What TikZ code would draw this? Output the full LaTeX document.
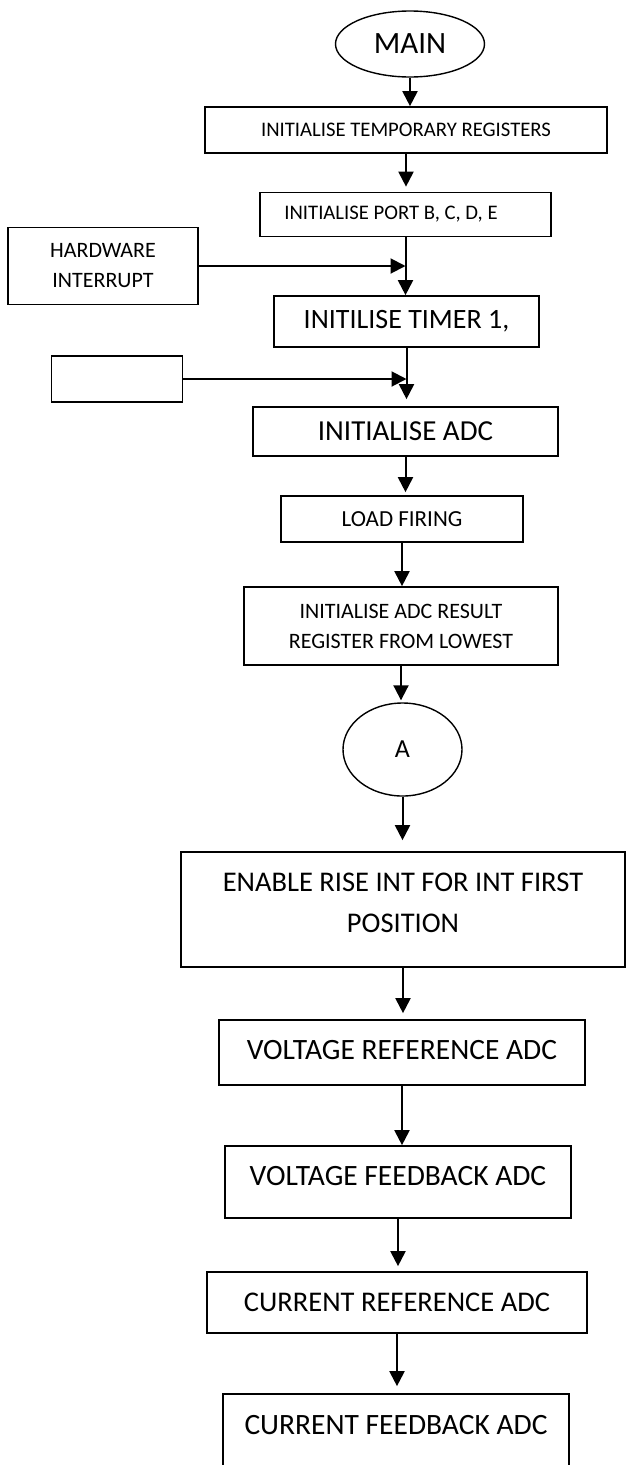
\documentclass[tikz,border=0pt]{standalone}
\usepackage{fontspec}
\setmainfont{Carlito}
\usetikzlibrary{shapes.geometric,arrows.meta}
\newcommand{\fsz}[2]{\fontsize{#1}{#2}\selectfont}

\begin{document}
\begin{tikzpicture}[x=1pt,y=-1pt,
        box/.style={draw, line width=1.7pt, inner sep=0pt, align=center},
        oval/.style={ellipse, draw, line width=1.4pt, inner sep=0pt},
        flow/.style={line width=2pt, -{Triangle[length=15pt,width=15pt]}}]
        \clip (0,0) rectangle (626,1465);
        % start
        \node [oval, minimum width=149pt, minimum height=66pt, font=\fsz{31}{37}] (main) at (410,44) {MAIN};
        \node [box, minimum width=402pt, minimum height=46pt, font=\fsz{20.7}{25}] (tempreg) at (406,130) {INITIALISE TEMPORARY REGISTERS};
        \node [box, minimum width=291pt, minimum height=44pt, font=\fsz{20.7}{25}] (port) at (405.5,214.5) {INITIALISE PORT B, C, D, E\hspace{29pt}};
        \node [box, minimum width=190pt, minimum height=77pt, font=\fsz{22}{30}] (hw) at (103,266) {HARDWARE\\INTERRUPT};
        \node [box, minimum width=265pt, minimum height=51pt, font=\fsz{28}{34}] (timer) at (406.5,321.5) {INITILISE TIMER 1,};
        \node [box, minimum width=131pt, minimum height=46pt] (blank) at (117,379) {};
        \node [box, minimum width=305pt, minimum height=49pt, font=\fsz{29}{35}] (adc) at (405.5,431.5) {INITIALISE ADC};
        \node [box, minimum width=242pt, minimum height=46pt, font=\fsz{23}{28}] (firing) at (402,519) {LOAD FIRING};
        \node [box, minimum width=314pt, minimum height=78pt, font=\fsz{22}{30}] (result) at (401,626) {INITIALISE ADC RESULT\\REGISTER FROM LOWEST};
        % connector
        \node [oval, minimum width=119pt, minimum height=93pt, font=\fsz{26}{31}] (conA) at (402.5,749.5) {A};
        \node [box, minimum width=444pt, minimum height=115pt, text depth=13pt, font=\fsz{28.5}{41}] (enable) at (403,909.5) {ENABLE RISE INT FOR INT FIRST\\POSITION};
        \node [box, minimum width=366pt, minimum height=65pt, text depth=5pt, font=\fsz{29.5}{35}] (vref) at (402,1052.5) {VOLTAGE REFERENCE ADC};
        \node [box, minimum width=346pt, minimum height=72pt, text depth=12pt, font=\fsz{29.5}{35}] (vfb) at (398,1182) {VOLTAGE FEEDBACK ADC};
        \node [box, minimum width=380pt, minimum height=61pt, font=\fsz{28.5}{34}] (cref) at (397,1302.5) {CURRENT REFERENCE ADC};
        \node [box, minimum width=346pt, minimum height=74pt, text depth=13pt, font=\fsz{29.5}{35}] (cfb) at (396,1431) {CURRENT FEEDBACK ADC};

        \draw [flow] (main.south) -- (main.south |- tempreg.north);
        \draw [flow, shorten >=5pt] (tempreg.south) -- (tempreg.south |- port.north);
        \draw [flow] (port.south) -- (port.south |- timer.north);
        \draw [flow] (hw.east) -- (hw.east -| port.south);
        \draw [flow, shorten >=7pt] (timer.south) -- (timer.south |- adc.north);
        \draw [flow] (blank.east) -- (blank.east -| timer.south);
        \draw [flow, shorten >=3pt] (adc.south) -- (adc.south |- firing.north);
        \draw [flow] (firing.south) -- (firing.south |- result.north);
        \draw [flow, shorten >=2pt] (result.south) -- (result.south |- conA.north);
        \draw [flow, shorten >=11pt] (conA.south) -- (conA.south |- enable.north);
        \draw [flow, shorten >=6pt] (enable.south) -- (enable.south |- vref.north);
        \draw [flow] (vref.south) -- (vref.south |- vfb.north);
        \draw [flow, shorten >=5pt] (vfb.south) -- (vfb.south |- cref.north);
        \draw [flow, shorten >=7pt] (cref.south) -- (cref.south |- cfb.north);
    \end{tikzpicture}
\end{document}
